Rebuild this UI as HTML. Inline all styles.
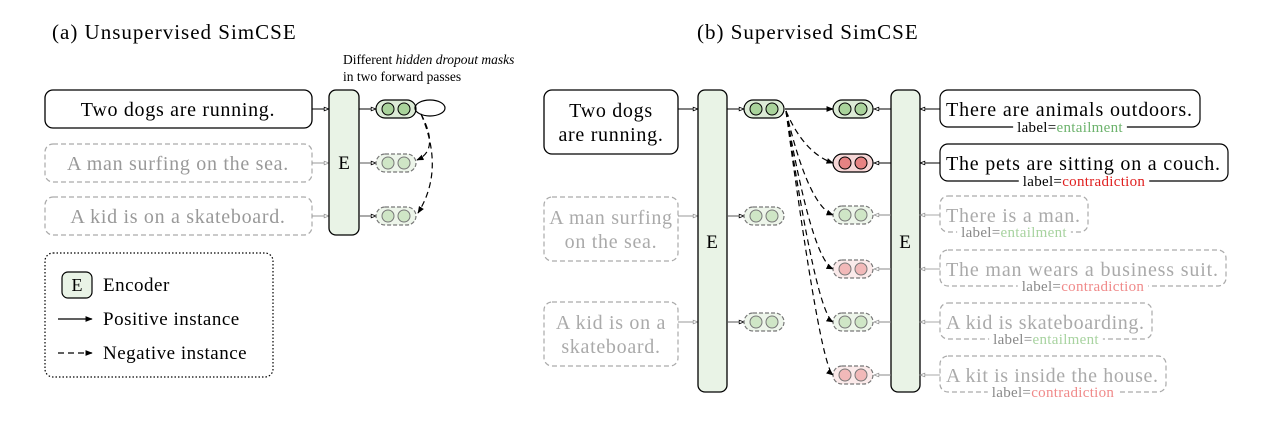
<!DOCTYPE html>
<html><head><meta charset="utf-8"><style>
html,body{margin:0;padding:0;background:#fff;width:1278px;height:424px;overflow:hidden}
svg{display:block;font-family:"Liberation Serif",serif}
.big{font-size:20px;letter-spacing:0.7px}
.ttl{font-size:21px;letter-spacing:1px}
.leg{font-size:19px;letter-spacing:0.5px}
</style></head><body>
<svg id="fig" width="1278" height="424" viewBox="0 0 1278 424">
<defs>
<marker id="ah" viewBox="0 0 10 10" refX="9" refY="5" markerWidth="6" markerHeight="6" orient="auto"><path d="M0,1 L10,5 L0,9 z" fill="#000"/></marker>
<marker id="aho" viewBox="0 0 10 10" refX="9" refY="5" markerWidth="6" markerHeight="6" orient="auto"><path d="M1,2 L9,5 L1,8 z" fill="#fff" stroke="#000" stroke-width="1.3"/></marker>
<marker id="ahg" viewBox="0 0 10 10" refX="9" refY="5" markerWidth="6" markerHeight="6" orient="auto"><path d="M1,2 L9,5 L1,8 z" fill="#fff" stroke="#999" stroke-width="1.3"/></marker>
</defs>
<text x="52" y="39" class="ttl">(a) Unsupervised SimCSE</text>
<text x="343" y="64" font-size="13.5">Different <tspan font-style="italic">hidden dropout masks</tspan></text>
<text x="343" y="81" font-size="13.5">in two forward passes</text>
<g><rect x="45" y="90" width="267" height="38" rx="8" fill="#fff" stroke="#000" stroke-width="1.3"/><text x="178" y="116" class="big" text-anchor="middle">Two dogs are running.</text></g>
<g><rect x="45" y="144" width="267" height="38" rx="8" fill="#fff" stroke="#aaa" stroke-dasharray="5,3" stroke-width="1.2"/><text x="178" y="170" class="big" text-anchor="middle" fill="#999">A man surfing on the sea.</text></g>
<g><rect x="45" y="197" width="267" height="38" rx="8" fill="#fff" stroke="#aaa" stroke-dasharray="5,3" stroke-width="1.2"/><text x="178" y="223" class="big" text-anchor="middle" fill="#999">A kid is on a skateboard.</text></g>
<line x1="312" y1="109" x2="329" y2="109" stroke="#000" marker-end="url(#aho)"/>
<line x1="312" y1="163" x2="329" y2="163" stroke="#999" marker-end="url(#ahg)"/>
<line x1="312" y1="216" x2="329" y2="216" stroke="#999" marker-end="url(#ahg)"/>
<g><rect x="329" y="90" width="30" height="145" rx="7" fill="#e9f3e6" stroke="#000" stroke-width="1.3"/><text x="344" y="169" font-size="19" text-anchor="middle">E</text></g>
<line x1="359" y1="109" x2="376" y2="109" stroke="#000" marker-end="url(#aho)"/>
<line x1="359" y1="163" x2="376" y2="163" stroke="#555" marker-end="url(#aho)"/>
<line x1="359" y1="216" x2="376" y2="216" stroke="#555" marker-end="url(#aho)"/>
<g id="pairsA"></g>
<ellipse cx="430" cy="108" rx="15" ry="8" fill="none" stroke="#000" stroke-width="1.2"/>
<path d="M421,114 Q440,150 417,160" fill="none" stroke="#000" stroke-width="1.2" stroke-dasharray="6,4" marker-end="url(#ah)"/>
<path d="M421,114 Q445,170 418,213" fill="none" stroke="#000" stroke-width="1.2" stroke-dasharray="6,4" marker-end="url(#ah)"/>
<g>
<rect x="45" y="253" width="228" height="124" rx="8" fill="none" stroke="#000" stroke-dasharray="1.5,2" stroke-width="1.2"/>
<rect x="62" y="272" width="30" height="26" rx="6" fill="#e9f3e6" stroke="#000" stroke-width="1.2"/>
<text x="77" y="291" font-size="18" text-anchor="middle">E</text>
<text x="103" y="291" class="leg">Encoder</text>
<line x1="58" y1="319" x2="92" y2="319" stroke="#000" stroke-width="1.2" marker-end="url(#ah)"/>
<text x="103" y="325" class="leg">Positive instance</text>
<line x1="58" y1="353" x2="92" y2="353" stroke="#000" stroke-width="1.2" stroke-dasharray="6,4" marker-end="url(#ah)"/>
<text x="103" y="359" class="leg">Negative instance</text>
</g>
<text x="697" y="39" class="ttl">(b) Supervised SimCSE</text>
<g><rect x="544" y="90" width="134" height="64" rx="8" fill="#fff" stroke="#000" stroke-width="1.3"/><text x="611" y="117" class="big" text-anchor="middle">Two dogs</text><text x="611" y="141" class="big" text-anchor="middle">are running.</text></g>
<g><rect x="544" y="197" width="134" height="64" rx="8" fill="#fff" stroke="#aaa" stroke-dasharray="5,3" stroke-width="1.2"/><text x="611" y="224" class="big" text-anchor="middle" fill="#aaa">A man surfing</text><text x="611" y="248" class="big" text-anchor="middle" fill="#aaa">on the sea.</text></g>
<g><rect x="544" y="302" width="134" height="64" rx="8" fill="#fff" stroke="#aaa" stroke-dasharray="5,3" stroke-width="1.2"/><text x="611" y="329" class="big" text-anchor="middle" fill="#aaa">A kid is on a</text><text x="611" y="353" class="big" text-anchor="middle" fill="#aaa">skateboard.</text></g>
<line x1="678" y1="109" x2="698" y2="109" stroke="#000" marker-end="url(#aho)"/>
<line x1="678" y1="216" x2="698" y2="216" stroke="#999" marker-end="url(#ahg)"/>
<line x1="678" y1="322" x2="698" y2="322" stroke="#999" marker-end="url(#ahg)"/>
<g><rect x="698" y="90" width="29" height="302" rx="7" fill="#e9f3e6" stroke="#000" stroke-width="1.3"/><text x="712" y="248" font-size="19" text-anchor="middle">E</text></g>
<line x1="727" y1="109" x2="744" y2="109" stroke="#000" marker-end="url(#aho)"/>
<line x1="727" y1="216" x2="744" y2="216" stroke="#555" marker-end="url(#aho)"/>
<line x1="727" y1="322" x2="744" y2="322" stroke="#555" marker-end="url(#aho)"/>
<g><rect x="891" y="90" width="29" height="302" rx="7" fill="#e9f3e6" stroke="#000" stroke-width="1.3"/><text x="905" y="248" font-size="19" text-anchor="middle">E</text></g>
<line x1="785" y1="109" x2="833" y2="109" stroke="#000" stroke-width="1.2" marker-end="url(#ah)"/>
<g id="dyn"></g>
</svg>
<script>
const sentences=["There are animals outdoors.","The pets are sitting on a couch.","There is a man.","The man wears a business suit.","A kid is skateboarding.","A kit is inside the house."];
const labels=["entailment","contradiction","entailment","contradiction","entailment","contradiction"];
const boxWidths=[260,288,148,286,212,226];
const rowY=[109,163,215,269,322,375];
const NS="http://www.w3.org/2000/svg";
const dyn=document.getElementById('dyn');
function mk(tag,attrs,parent){const e=document.createElementNS(NS,tag);for(const k in attrs)e.setAttribute(k,attrs[k]);(parent||dyn).appendChild(e);return e;}
function pair(x,cy,kind,active,parent){
  const g=mk('g',{},parent);
  
  
  const red=kind==='contradiction';
  const bg=red?(active?'#f6d6d6':'#fbeaea'):(active?'#dcebd6':'#edf5ea');
  const cf=red?(active?'#e68383':'#f2b9b9'):(active?'#a9d39b':'#cfe6c6');
  mk('rect',{x:x,y:cy-9,width:40,height:18,rx:9,fill:bg,stroke:active?'#000':'#777','stroke-width':1.2,'stroke-dasharray':active?'none':'4,2'},g);
  mk('circle',{cx:x+12,cy:cy,r:6,fill:cf,stroke:active?'#000':'#777','stroke-width':1},g);
  mk('circle',{cx:x+28,cy:cy,r:6,fill:cf,stroke:active?'#000':'#777','stroke-width':1},g);
}
const pa=document.getElementById('pairsA');
pair(376,109,'entailment',true,pa);
pair(376,163,'entailment',false,pa);
pair(376,216,'entailment',false,pa);
pair(744,109,'entailment',true);
pair(744,216,'entailment',false);
pair(744,322,'entailment',false);
sentences.forEach((s,i)=>{
  const cy=rowY[i];const active=i<2;
  pair(833,cy,labels[i],active);
  mk('line',{x1:891,y1:cy,x2:874,y2:cy,stroke:active?'#000':'#888','marker-end':active?'url(#aho)':'url(#ahg)'});
  mk('line',{x1:940,y1:cy,x2:920,y2:cy,stroke:active?'#000':'#aaa','marker-end':active?'url(#aho)':'url(#ahg)'});
  if(i>0){
    const p=mk('path',{d:`M786,${109+2} Q${800+i*4},${cy-10} 833,${cy}`,fill:'none',stroke:'#000','stroke-width':1.2,'stroke-dasharray':'6,4','marker-end':'url(#ah)'});
    
    
  }
  const g=mk('g',{});
  
  
  const h=active?37:36;
  mk('rect',{x:940,y:cy-19,width:boxWidths[i],height:h,rx:8,fill:'#fff',stroke:active?'#000':'#aaa','stroke-width':1.2,'stroke-dasharray':active?'none':'5,3'},g);
  const t=mk('text',{x:946,y:cy+7,'font-size':20,fill:active?'#000':'#aaa',textLength:boxWidths[i]-14,lengthAdjust:'spacing'},g);
  t.textContent=s;
  const lx=940+boxWidths[i]/2, ly=cy+h-19;
  const bgr=mk('rect',{x:lx,y:ly-6,width:0,height:12,fill:'#fff'},g);
  const lt=mk('text',{x:lx,y:ly+5,'font-size':15,'letter-spacing':'0.3','text-anchor':'middle',fill:active?'#000':'#888'},g);
  
  
  const col=labels[i]==='entailment'?(active?'#6db36d':'#a8d3a0'):(active?'#e02020':'#f08a8a');
  lt.innerHTML='label=<tspan fill="'+col+'">'+labels[i]+'</tspan>';
  const w=lt.getComputedTextLength()+8;
  bgr.setAttribute('x',lx-w/2);bgr.setAttribute('width',w);
});
</script>
</body></html>
